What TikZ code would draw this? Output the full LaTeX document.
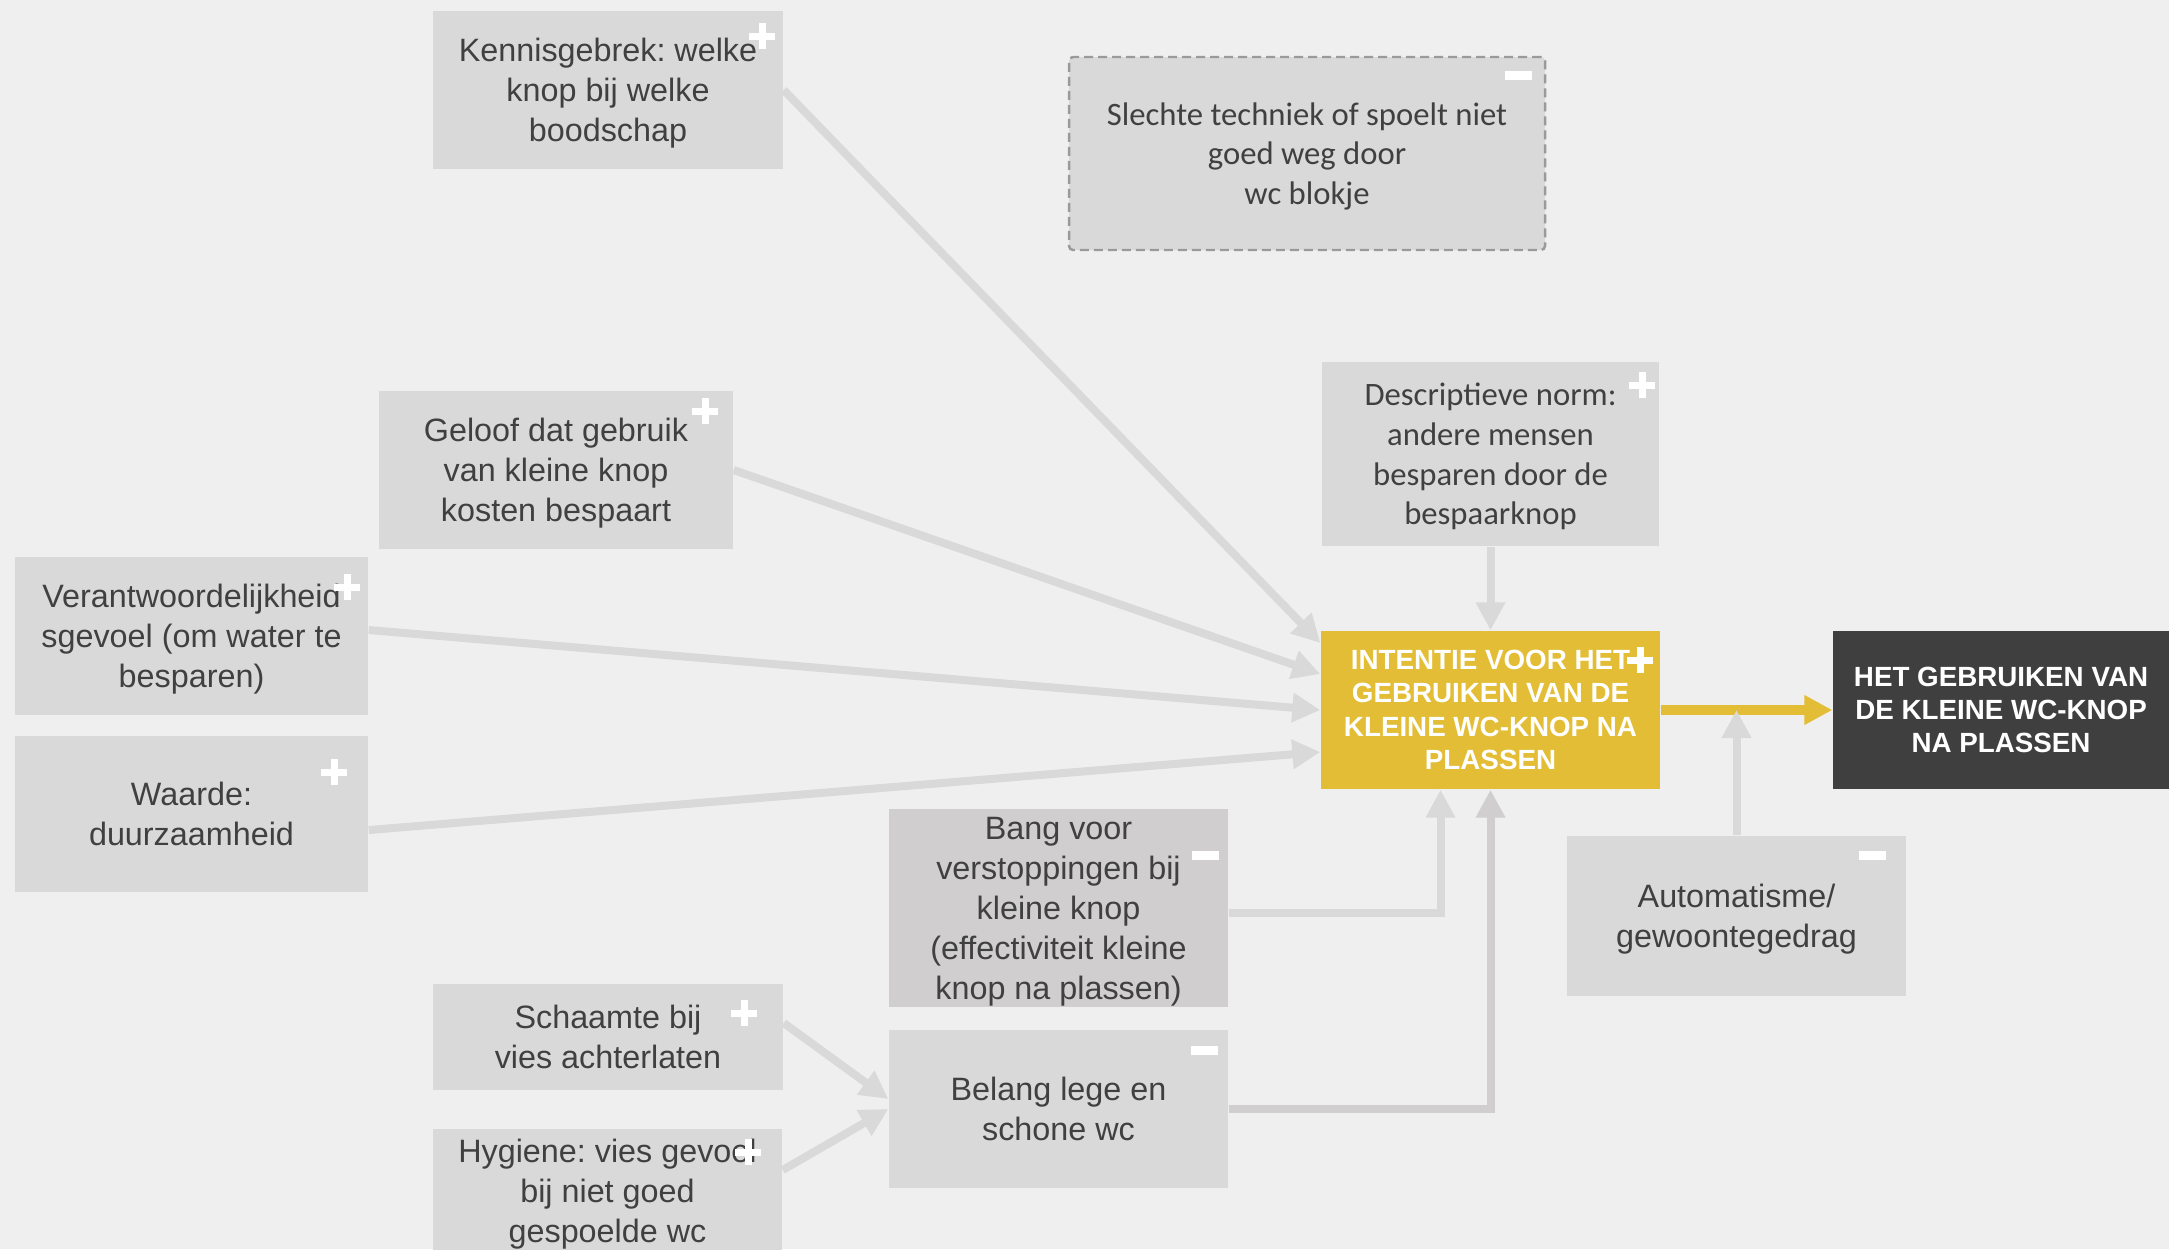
\documentclass[tikz,border=0pt]{standalone}
\usepackage{fontspec}
\setmainfont{Liberation Sans}
\newfontfamily\calibri{Carlito}
\usepackage{tikz}
\usetikzlibrary{arrows.meta}
\definecolor{achtergrond}{HTML}{EFEFEF}
\definecolor{boxgrijs}{HTML}{D9D9D9}
\definecolor{boxdonker}{HTML}{D0CECE}
\definecolor{tekstgrijs}{HTML}{404040}
\definecolor{geel}{HTML}{E2BD35}
\definecolor{antraciet}{HTML}{3F3F3F}
\definecolor{rand}{HTML}{9A9A9A}
\tikzset{
  factor/.style={rectangle, fill=boxgrijs, text=tekstgrijs, align=center, inner sep=0pt, text depth=0pt,
    font=\fontsize{9.2}{11.4}\selectfont},
  factorcal/.style={factor, font=\calibri\fontsize{9.3}{11.3}\selectfont},
  kern/.style={rectangle, text=white, align=center, inner sep=0pt,
    font=\bfseries\fontsize{7.9}{9.45}\selectfont},
  pijl/.style={color=boxgrijs, line width=0.08cm, -{Triangle[length=0.28cm,width=0.28cm]}},
  pijlgeel/.style={pijl, color=geel, line width=0.1cm},
  teken/.style={draw=white, line width=0.07cm},
}
\newcommand{\plusteken}[1]{\draw[teken] (#1) +(-0.13,0) -- +(0.13,0) (#1) +(0,-0.13) -- +(0,0.13);}
\newcommand{\minteken}[1]{\draw[teken, line width=0.09cm] (#1) +(-0.135,0) -- +(0.135,0);}

\begin{document}
\frenchspacing
\begin{tikzpicture}
\clip (0,0) rectangle (21.69,-12.49);
\fill [achtergrond] (0,0) rectangle (21.69,-12.49);

\node [factor, minimum width=3.5cm, minimum height=1.58cm] (kennis) at (6.08,-0.90) {Kennisgebrek: welke\\knop bij welke\\boodschap};
\node [factorcal, draw=rand, line width=0.7pt, dash pattern=on 0.09cm off 0.05cm, rounded corners=0.04cm,
  minimum width=4.76cm, minimum height=1.93cm] (slechte) at (13.07,-1.535) {Slechte techniek of spoelt niet\\goed weg door\\wc blokje};
\node [factorcal, minimum width=3.37cm, minimum height=1.84cm] (descr) at (14.905,-4.54) {Descriptieve norm:\\andere mensen\\besparen door de\\bespaarknop};
\node [factor, minimum width=3.54cm, minimum height=1.58cm] (geloof) at (5.56,-4.70) {Geloof dat gebruik\\van kleine knop\\kosten bespaart};
\node [factor, minimum width=3.53cm, minimum height=1.58cm] (verant) at (1.915,-6.36) {Verantwoordelijkheid\\sgevoel (om water te\\besparen)};
\node [factor, minimum width=3.53cm, minimum height=1.56cm] (waarde) at (1.915,-8.14) {Waarde:\\duurzaamheid};
\node [kern, fill=geel, minimum width=3.39cm, minimum height=1.58cm] (intentie) at (14.905,-7.10) {INTENTIE VOOR HET\\GEBRUIKEN VAN DE\\KLEINE WC-KNOP NA\\PLASSEN};
\node [kern, fill=antraciet, minimum width=3.36cm, minimum height=1.58cm] (gedrag) at (20.01,-7.10) {HET GEBRUIKEN VAN\\DE KLEINE WC-KNOP\\NA PLASSEN};
\node [factor, fill=boxdonker, minimum width=3.39cm, minimum height=1.98cm] (bang) at (10.585,-9.08) {Bang voor\\verstoppingen bij\\kleine knop\\(effectiviteit kleine\\knop na plassen)};
\node [factor, minimum width=3.39cm, minimum height=1.60cm] (autom) at (17.365,-9.16) {Automatisme/\\gewoontegedrag};
\node [factor, minimum width=3.5cm, minimum height=1.06cm] (schaamte) at (6.08,-10.37) {Schaamte bij\\vies achterlaten};
\node [factor, minimum width=3.39cm, minimum height=1.58cm] (belang) at (10.585,-11.09) {Belang lege en\\schone wc};
\node [factor, minimum width=3.49cm, minimum height=1.24cm] (hygiene) at (6.075,-11.91) {Hygiene: vies gevoel\\bij niet goed\\gespoelde wc};

\draw [pijl] (kennis.east) -- ([yshift=0.67cm]intentie.west);
\draw [pijl] (geloof.east) -- ([yshift=0.36cm]intentie.west);
\draw [pijl] ([yshift=0.06cm]verant.east) -- (intentie.west);
\draw [pijl] ([yshift=-0.16cm]waarde.east) -- ([yshift=-0.42cm]intentie.west);
\draw [pijl] (descr.south) -- (intentie.north);
\draw [pijl] ([yshift=-0.05cm]bang.east) -| ([xshift=-0.5cm]intentie.south);
\draw [pijl, color=boxdonker] (belang.east) -| (intentie.south);
\draw [pijl] ([yshift=0.14cm]schaamte.east) -- ([yshift=0.1cm]belang.west);
\draw [pijl] ([yshift=0.21cm]hygiene.east) -- (belang.west);
\draw [pijlgeel] (intentie.east) -- (gedrag.west);
\draw [pijl] (autom.north) -- (autom.north |- intentie.east);

\plusteken{7.62,-0.36}
\minteken{15.18,-0.75}
\plusteken{16.42,-3.85}
\plusteken{7.05,-4.11}
\plusteken{3.47,-5.87}
\plusteken{3.34,-7.72}
\plusteken{16.40,-6.60}
\minteken{12.05,-8.55}
\minteken{18.72,-8.55}
\plusteken{7.44,-10.13}
\minteken{12.04,-10.50}
\plusteken{7.48,-11.52}
\end{tikzpicture}
\end{document}
